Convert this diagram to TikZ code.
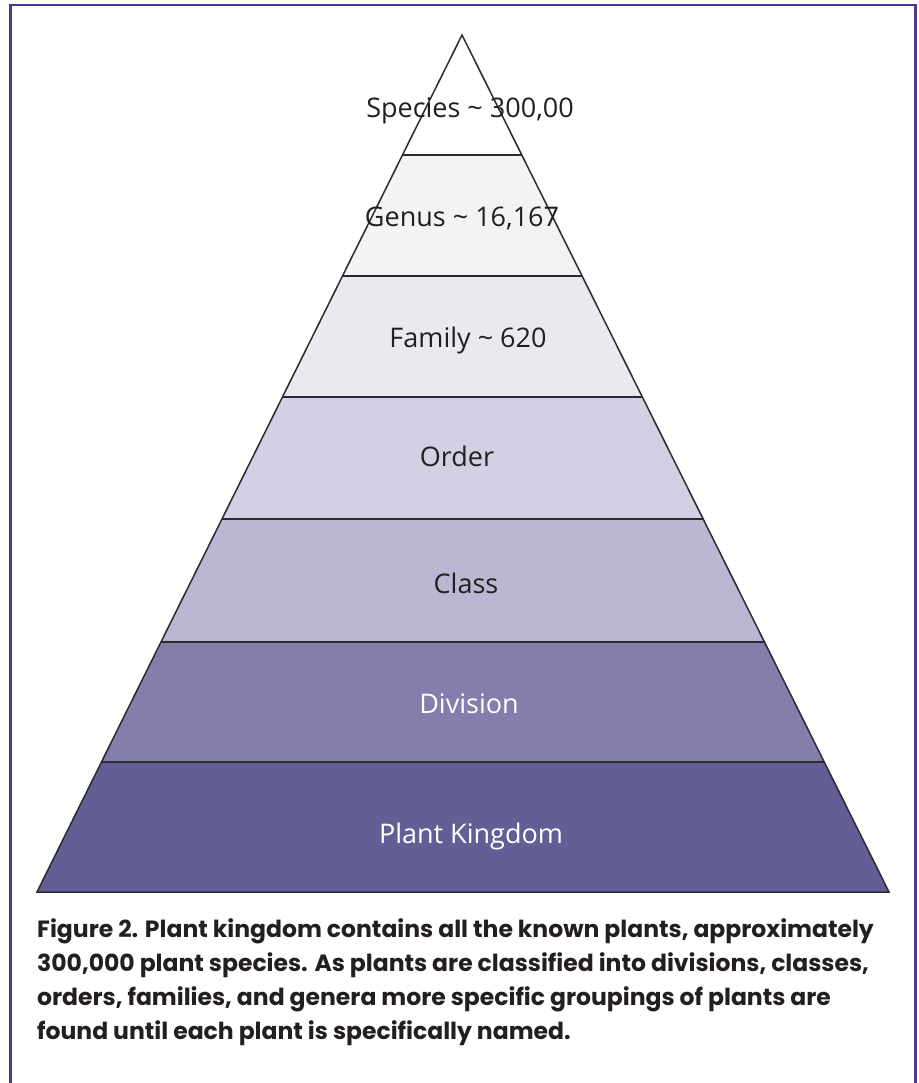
\documentclass[tikz,border=0pt]{standalone}
\usepackage{fontspec}
\usetikzlibrary{calc}
\newfontfamily\labfont{Open Sans}
\newfontfamily\capfont{Poppins}
\definecolor{frame}{HTML}{433E8D}
\definecolor{ink}{HTML}{2B2A2E}
\definecolor{txt}{HTML}{231F20}
\definecolor{cA}{HTML}{FFFFFF}
\definecolor{cB}{HTML}{F3F3F6}
\definecolor{cC}{HTML}{EAE9F0}
\definecolor{cD}{HTML}{D3D0E3}
\definecolor{cE}{HTML}{BAB7D2}
\definecolor{cF}{HTML}{847EAD}
\definecolor{cG}{HTML}{645E96}
\begin{document}
\begin{tikzpicture}[x=1pt,y=-1pt,
  lab/.style={font=\labfont\fontsize{27}{32}\selectfont, text=txt, inner sep=0pt, anchor=base},
  wlab/.style={lab, text=white},
  edge/.style={draw=ink, line width=1.5pt},
  captext/.style={font=\capfont\bfseries\fontsize{23.5}{34.2}\selectfont, text=txt, inner sep=0pt, anchor=north west, align=left}]
\useasboundingbox (0,0) rectangle (918,1083);
\fill[white] (0,0) rectangle (918,1083);
\draw[frame, line width=2.5pt] (10.5,1095) -- (10.5,5) -- (915.5,5) -- (915.5,1095);
\coordinate (A) at (462,35);
\coordinate (BL) at (37,892);
\coordinate (BR) at (889,892);
\foreach \n/\t in {1/0.14002,2/0.28121,3/0.42240,4/0.56476,5/0.70828,6/0.84831}{
  \coordinate (L\n) at ($(A)!\t!(BL)$);
  \coordinate (R\n) at ($(A)!\t!(BR)$);
}
\fill[cA] (A) -- (L1) -- (R1) -- cycle;
\fill[cB] (L1) -- (L2) -- (R2) -- (R1) -- cycle;
\fill[cC] (L2) -- (L3) -- (R3) -- (R2) -- cycle;
\fill[cD] (L3) -- (L4) -- (R4) -- (R3) -- cycle;
\fill[cE] (L4) -- (L5) -- (R5) -- (R4) -- cycle;
\fill[cF] (L5) -- (L6) -- (R6) -- (R5) -- cycle;
\fill[cG] (L6) -- (BL) -- (BR) -- (R6) -- cycle;
\foreach \n in {1,...,6}{\draw[edge] (L\n) -- (R\n);}
\draw[edge, line join=miter] (A) -- (BL) -- (BR) -- cycle;
\node[lab] (species) at (470,118) {Species \textasciitilde{} 300,00};
\node[lab] (genus) at (462,226) {Genus \textasciitilde{} 16,167};
\node[lab] (family) at (468,347) {Family \textasciitilde{} 620};
\node[lab] (order) at (457,466) {Order};
\node[lab] (class) at (466,593) {Class};
\node[wlab] (division) at (469,713) {Division};
\node[wlab] (kingdom) at (471,843) {Plant Kingdom};
\node[captext] (caption) at (37,918) {Figure 2. Plant kingdom contains all the known plants, approximately\\
300,000 plant species. As plants are classified into divisions, classes,\\
orders, families, and genera more specific groupings of plants are\\
found until each plant is specifically named.};
\end{tikzpicture}
\end{document}
